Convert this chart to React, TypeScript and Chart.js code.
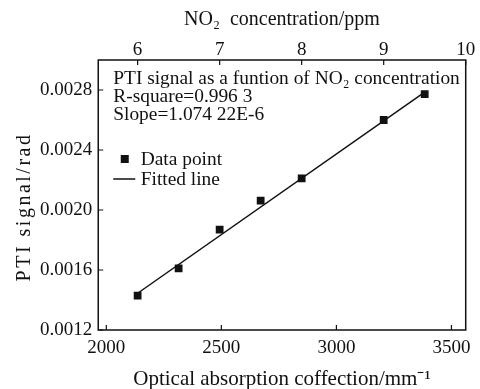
import React, { useEffect, useRef } from "react";
import { Chart, registerables } from "chart.js";

Chart.register(...registerables);

// ---- data ----
const concentrationPpm = [6, 6.5, 7, 7.5, 8, 9, 9.5];
const ptiSignalRad = [0.001429, 0.001611, 0.001869, 0.002062, 0.002211, 0.0026, 0.002773];
const fitConcentration = [6, 9.5];
const fitSignal = [0.001445, 0.002786];
const bottomTicks = [2000, 2500, 3000, 3500];
const topTicks = [6, 7, 8, 9, 10];
const yTicks = [0.0012, 0.0016, 0.002, 0.0024, 0.0028];
const annotationLines = [
  "PTI signal as a funtion of NO\u2082 concentration",
  "R-square=0.996 3",
  "Slope=1.074 22E-6",
];
const legendLabels = ["Data point", "Fitted line"];
const xBottomTitle = "Optical absorption coffection/mm\u207B\u00B9";
const xTopTitle = "NO\u2082  concentration/ppm";
const yTitle = "PTI signal/rad";

const FONT = '"Liberation Serif", "Times New Roman", serif';

const overlayPlugin = {
  id: "overlay",
  afterDraw(chart: any) {
    const { ctx, chartArea: a } = chart;
    ctx.save();
    ctx.strokeStyle = "#111";
    ctx.lineWidth = 1.5;
    ctx.strokeRect(a.left, a.top, a.right - a.left, a.bottom - a.top);
    const tl = 5;
    ctx.lineWidth = 1.2;
    ctx.beginPath();
    for (const id of ["x", "xTop", "y"]) {
      const s = chart.scales[id];
      for (const t of s.ticks) {
        const p = s.getPixelForValue(t.value);
        if (id === "x") {
          ctx.moveTo(p, a.bottom);
          ctx.lineTo(p, a.bottom - tl);
        } else if (id === "xTop") {
          ctx.moveTo(p, a.top);
          ctx.lineTo(p, a.top + tl);
        } else {
          ctx.moveTo(a.left, p);
          ctx.lineTo(a.left + tl, p);
        }
      }
    }
    ctx.stroke();

    ctx.fillStyle = "#111";
    ctx.font = `19.4px ${FONT}`;
    ctx.textBaseline = "alphabetic";
    ctx.textAlign = "left";
    annotationLines.forEach((t, i) => ctx.fillText(t, a.left + 15, a.top + 23.5 + i * 18.3));
    // legend
    const ly = a.top + 105;
    ctx.fillRect(a.left + 22.5, ly - 10, 8, 8);
    ctx.fillText(legendLabels[0], a.left + 42.5, ly);
    ctx.beginPath();
    ctx.lineWidth = 1.5;
    ctx.moveTo(a.left + 15, ly + 14);
    ctx.lineTo(a.left + 37, ly + 14);
    ctx.stroke();
    ctx.fillText(legendLabels[1], a.left + 42.5, ly + 20);

    // y axis title (letter-spaced like the reference)
    ctx.save();
    ctx.translate(25, (a.top + a.bottom) / 2 + 12);
    ctx.rotate(-Math.PI / 2);
    ctx.font = `20px ${FONT}`;
    (ctx as any).letterSpacing = "2.5px";
    ctx.textAlign = "center";
    ctx.textBaseline = "middle";
    ctx.fillText(yTitle, 0, 0);
    ctx.restore();
    ctx.restore();
  },
};

export default function App() {
  const ref = useRef<HTMLCanvasElement | null>(null);
  useEffect(() => {
    if (!ref.current) return;
    const tickFont = { family: FONT, size: 19, lineHeight: 1 };
    const noGrid = { display: false, drawTicks: false, tickLength: 0 };
    const chart = new Chart(ref.current, {
      type: "scatter",
      data: {
        datasets: [
          {
            label: legendLabels[0],
            data: concentrationPpm.map((c, i) => ({ x: c, y: ptiSignalRad[i] })),
            xAxisID: "xTop",
            yAxisID: "y",
            pointStyle: "rect",
            pointRadius: 5.5,
            backgroundColor: "#111",
            borderColor: "#111",
            borderWidth: 0,
            showLine: false,
          },
          {
            label: legendLabels[1],
            data: fitConcentration.map((c, i) => ({ x: c, y: fitSignal[i] })),
            xAxisID: "xTop",
            yAxisID: "y",
            showLine: true,
            pointRadius: 0,
            borderColor: "#111",
            borderWidth: 1.5,
          },
        ],
      },
      options: {
        animation: false,
        responsive: true,
        maintainAspectRatio: false,
        layout: { padding: { left: 34, right: 13, top: 0, bottom: 0 } },
        plugins: { legend: { display: false }, tooltip: { enabled: false } },
        scales: {
          x: {
            type: "linear",
            position: "bottom",
            min: 1965,
            max: 3562,
            afterBuildTicks: (s: any) => {
              s.ticks = bottomTicks.map((v) => ({ value: v }));
            },
            ticks: { font: tickFont, color: "#111", padding: 9, maxRotation: 0, callback: (v: any) => String(v) },
            grid: noGrid,
            border: { display: false },
            title: {
              display: true,
              text: xBottomTitle,
              font: { family: FONT, size: 21, lineHeight: 1 },
              color: "#111",
              padding: { top: 2, bottom: -1 },
            },
          },
          xTop: {
            type: "linear",
            position: "top",
            min: 5.52,
            max: 10,
            afterBuildTicks: (s: any) => {
              s.ticks = topTicks.map((v) => ({ value: v }));
            },
            ticks: { font: tickFont, color: "#111", padding: 0, maxRotation: 0, callback: (v: any) => String(v) },
            grid: noGrid,
            border: { display: false },
            title: {
              display: true,
              text: xTopTitle,
              font: { family: FONT, size: 20, lineHeight: 1 },
              color: "#111",
              padding: { top: 10, bottom: 11 },
            },
          },
          y: {
            type: "linear",
            position: "left",
            min: 0.0012,
            max: 0.003,
            afterBuildTicks: (s: any) => {
              s.ticks = yTicks.map((v) => ({ value: v }));
            },
            ticks: { font: tickFont, color: "#111", padding: 6, callback: (v: any) => Number(v).toFixed(4) },
            grid: noGrid,
            border: { display: false },
            title: { display: false },
          },
        },
      },
      plugins: [overlayPlugin],
    } as any);
    return () => chart.destroy();
  }, []);
  return (
    <div style={{ position: "absolute", left: 0, top: 0, width: 480, height: 389, background: "#fff" }}>
      <canvas ref={ref} />
    </div>
  );
}
